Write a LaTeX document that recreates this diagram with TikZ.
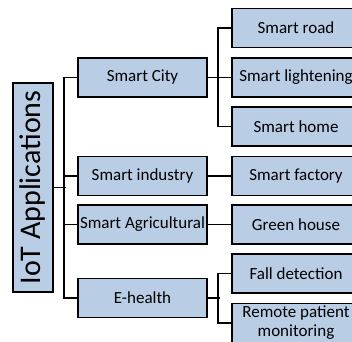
\documentclass[tikz,border=0pt]{standalone}
\usepackage{fontspec}
\setmainfont{Carlito}
\definecolor{boxblue}{RGB}{185,205,229}
\begin{document}
\begin{tikzpicture}[x=1pt,y=-1pt,
  box/.style={draw=black,fill=boxblue,line width=1.8pt,minimum width=129pt,minimum height=39pt,inner sep=0pt,font=\fontsize{17}{19}\selectfont,align=center},
  rbox/.style={box,minimum width=128pt},
  conn/.style={line width=1.8pt}]
\useasboundingbox (0,0) rectangle (352,341);
\clip (0,0) rectangle (352,341);
\node[draw=black,fill=boxblue,line width=1.8pt,minimum width=209pt,minimum height=40pt,inner sep=0pt,rotate=90,font=\fontsize{30}{32}\selectfont] (iot) at (33,187.5) {IoT Applications};
\node[box] (sc) at (142.5,77.5) {Smart City};
\node[box] (si) at (142.5,176) {Smart industry};
\node[box] (sa) at (142.5,224.5) {Smart Agricultural};
\node[box] (eh) at (142.5,298) {E-health};
\node[rbox] (sr) at (296,28) {Smart road};
\node[rbox] (sl) at (296,77.5) {Smart lightening};
\node[rbox] (sh) at (296,126.5) {Smart home};
\node[rbox] (sf) at (296,176) {Smart factory};
\node[rbox] (gh) at (296,224.5) {Green house};
\node[rbox] (fd) at (296,273.5) {Fall detection};
\node[rbox] (rp) at (296,323) {Remote patient\\monitoring};
\draw[conn] (iot.south) -- ++(12,0);
\draw[conn] (sc.west) -- ++(-13,0) |- (eh.west);
\draw[conn] (si.west) -- ++(-13,0);
\draw[conn] (sa.west) -- ++(-13,0);
\draw[conn] (sc.east) -- (sl.west);
\draw[conn] (sr.west) -- ++(-13,0) |- (sh.west);
\draw[conn] (si.east) -- (sf.west);
\draw[conn] (sa.east) -- (gh.west);
\draw[conn] (eh.east) -- ++(12,0);
\draw[conn] (fd.west) -- ++(-13,0) |- (rp.west);
\end{tikzpicture}
\end{document}
